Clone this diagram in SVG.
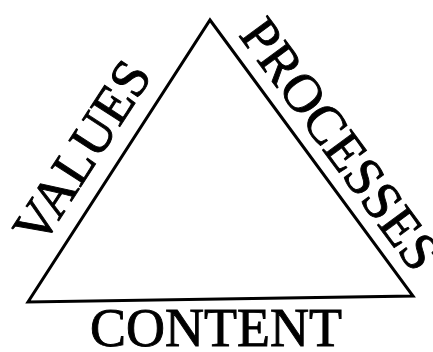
<svg xmlns="http://www.w3.org/2000/svg" width="433" height="352" viewBox="0 0 433 352">
<style>
.lbl{font-family:"Liberation Serif","Times New Roman",serif;font-size:54px;fill:#000;stroke:#000;stroke-width:0.9}
.edge{fill:none;stroke:#000;stroke-width:3;stroke-linejoin:miter}
</style>
<rect width="433" height="352" fill="#fff"/>
<g id="triangle">
<polygon class="edge" points="210,20 413,296 28,302"/>
</g>
<g id="values">
<text class="lbl" transform="translate(41,248) rotate(-57)">VALUES</text>
</g>
<g id="processes">
<text class="lbl" transform="translate(238,35) rotate(53.7)" font-size="53">PROCESSES</text>
</g>
<g id="content">
<text class="lbl" x="216" y="346" text-anchor="middle">CONTENT</text>
</g>
</svg>
